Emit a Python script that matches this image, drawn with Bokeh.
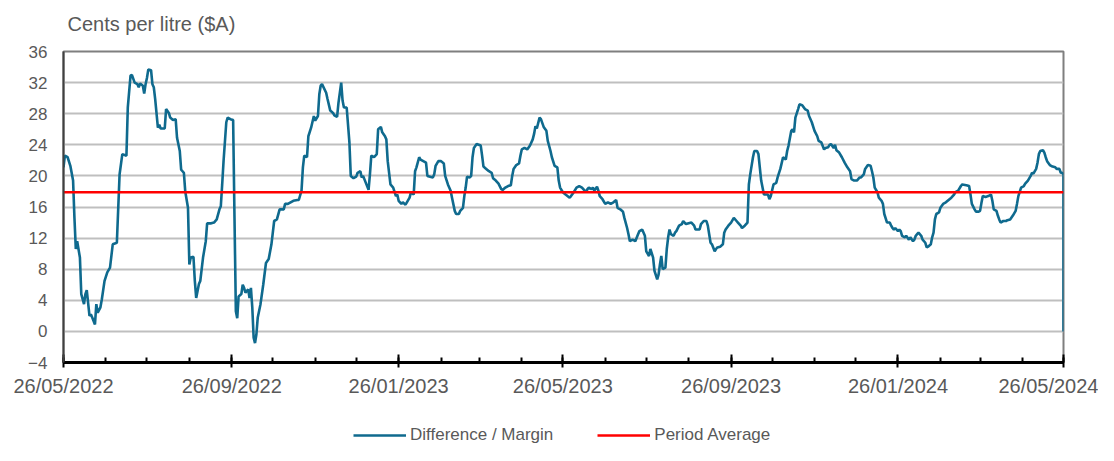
from datetime import datetime, timedelta
from bokeh.plotting import figure
from bokeh.layouts import column
from bokeh.models import (ColumnDataSource, Range1d, FixedTicker, DatetimeTickFormatter,
                          Legend, LegendItem, Label)
from bokeh.embed import file_html
from bokeh.resources import INLINE

start_date = "2022-05-26"
end_date = "2024-05-26"

# day offsets from 26/05/2022 and margin values (cents per litre)
day_offsets = [
    0, 1, 3, 5, 7, 8, 9, 10, 12, 13, 15, 16, 17, 19, 20, 21, 23, 24, 25, 27, 28, 30, 32, 34, 36, 39,
    41, 43, 46, 47, 49, 50, 52, 54, 55, 56, 58, 59, 60, 61, 62, 64, 65, 66, 67, 69, 70, 71, 74, 75,
    77, 78, 80, 82, 83, 85, 86, 87, 88, 89, 91, 92, 93, 95, 96, 97, 99, 100, 102, 104, 105, 108, 110,
    112, 114, 115, 116, 117, 119, 120, 122, 124, 125, 126, 127, 128, 130, 131, 132, 133, 135, 136,
    137, 138, 139, 140, 141, 142, 144, 146, 148, 150, 152, 154, 156, 158, 160, 161, 162, 164, 166,
    168, 171, 172, 174, 175, 176, 178, 179, 181, 183, 184, 186, 187, 188, 189, 192, 193, 195, 197,
    198, 200, 201, 203, 204, 205, 207, 209, 210, 212, 214, 215, 217, 218, 219, 221, 223, 224, 225,
    227, 229, 230, 232, 233, 235, 236, 237, 239, 241, 243, 244, 245, 247, 248, 250, 251, 253, 254,
    256, 257, 258, 260, 261, 263, 265, 266, 268, 270, 271, 272, 274, 276, 278, 279, 281, 283, 284,
    286, 287, 289, 290, 292, 293, 294, 295, 297, 298, 299, 300, 302, 305, 306, 307, 309, 311, 313,
    314, 316, 318, 320, 321, 323, 325, 327, 328, 329, 331, 333, 334, 335, 337, 339, 341, 343, 344,
    345, 346, 348, 349, 351, 353, 354, 356, 357, 359, 361, 362, 363, 365, 367, 370, 371, 373, 375,
    377, 379, 381, 382, 383, 384, 386, 387, 388, 390, 391, 392, 394, 396, 398, 400, 402, 404, 405,
    407, 409, 410, 412, 413, 414, 416, 418, 420, 421, 423, 425, 426, 428, 429, 431, 432, 434, 435,
    436, 437, 438, 440, 441, 442, 443, 444, 446, 447, 448, 450, 452, 453, 455, 457, 459, 461, 462,
    465, 466, 468, 470, 471, 472, 473, 474, 476, 477, 478, 480, 482, 483, 484, 486, 488, 490, 492,
    493, 495, 496, 498, 500, 501, 502, 504, 505, 507, 508, 509, 510, 512, 513, 515, 516, 517, 519,
    521, 522, 524, 526, 528, 529, 530, 532, 533, 534, 535, 537, 538, 540, 542, 544, 545, 547, 549,
    551, 552, 554, 556, 557, 559, 560, 561, 563, 564, 565, 567, 569, 571, 573, 575, 576, 578, 580,
    582, 583, 584, 585, 586, 588, 590, 591, 592, 593, 595, 596, 598, 599, 600, 602, 604, 605, 606,
    607, 608, 610, 611, 612, 613, 615, 616, 618, 619, 621, 622, 623, 624, 625, 627, 628, 630, 631,
    632, 634, 635, 636, 637, 638, 640, 641, 643, 645, 647, 649, 651, 652, 654, 656, 657, 660, 662,
    663, 664, 666, 667, 669, 670, 671, 672, 674, 676, 678, 679, 680, 682, 683, 684, 685, 687, 689,
    690, 692, 694, 696, 697, 698, 700, 702, 703, 705, 707, 708, 709, 711, 712, 713, 714, 716, 717,
    718, 719, 721, 723, 725, 726, 728, 729, 730, 731, 731,
]
margin = [
    21.1, 22.6, 22.4, 21.3, 19.4, 14.6, 10.6, 11.6, 9.5, 4.8, 3.5, 4.8, 5.3, 2.0, 2.2, 1.8, 0.9, 3.5,
    2.4, 3.1, 4.1, 6.5, 7.6, 8.2, 11.2, 11.4,
    20.2, 22.8, 22.6, 28.8, 32.9, 33.0, 32.0, 31.8, 31.4, 31.9, 31.6, 30.6, 31.8, 32.6, 33.7, 33.6,
    31.8, 31.4, 29.9, 26.2, 26.6, 26.1, 26.1, 28.6,
    28.1, 27.5, 27.2, 27.3, 24.9, 23.2, 20.8, 20.6, 20.4, 18.0, 15.9, 8.6, 9.5, 9.6, 6.5, 4.3, 6.1,
    6.5, 9.5, 11.6, 13.9, 13.9, 14.0,
    14.4, 15.7, 16.1, 18.9, 21.9, 26.9, 27.5, 27.3, 27.2, 14.6, 2.6, 1.7, 4.5, 4.8, 6.0, 5.6, 5.0,
    5.4, 4.3,
    5.6, 3.1, -0.8, -1.5, -0.4, 1.8, 3.5, 6.0, 8.8, 9.3, 11.2, 14.2, 14.4, 15.7, 15.7, 15.7, 16.4,
    16.4, 16.6,
    16.8, 16.9, 16.9, 18.1, 21.1, 22.6, 22.4, 25.1, 26.2, 27.7, 27.1, 27.7, 30.5, 31.6, 31.8, 30.7,
    29.9, 28.4, 28.1,
    27.8, 27.6, 29.4, 32.0, 29.7, 28.8, 28.8, 24.3, 20.0, 19.7, 19.9, 20.4, 20.6, 19.8, 20.0, 19.1,
    18.2, 20.2, 22.6,
    22.4, 22.8, 26.0, 26.3, 25.6, 25.1, 24.7, 21.9, 18.9, 18.5, 17.4, 17.6, 16.8, 16.4, 16.6, 16.3,
    16.6, 17.2, 17.9,
    17.6, 20.6, 21.1, 22.4, 22.1, 21.9, 21.7, 20.0, 19.9, 19.8, 20.2, 21.3, 21.9, 21.9, 21.6, 20.0,
    18.9, 18.1, 17.2,
    15.5, 15.1, 15.1, 15.5, 15.9, 17.4, 18.5, 19.9, 19.8, 20.0, 22.4, 23.6, 24.1, 23.9, 22.6, 21.2,
    20.9, 20.6, 20.4,
    19.7, 19.4, 19.0, 18.3, 18.2, 18.5, 18.7, 18.8, 20.0, 20.9, 21.4, 21.6, 22.6, 23.4, 23.6, 23.4,
    23.9, 24.7, 25.4,
    26.4, 26.1, 27.5, 27.3, 26.3, 25.8, 24.5, 23.2, 22.4, 21.3, 21.1, 19.4, 18.5, 17.9, 17.6, 17.2,
    17.4, 17.9, 18.5,
    18.7, 18.5, 18.1, 17.9, 18.3, 18.5, 18.3, 18.5, 18.1, 18.6, 18.1, 17.4, 17.0, 16.4, 16.6, 16.4,
    16.6, 16.9, 15.9,
    15.7, 15.4, 14.6, 13.3, 12.5, 11.6, 11.8, 11.6, 12.5, 12.9, 13.1, 12.3, 10.3, 9.7, 10.6, 9.5,
    7.8, 6.7, 7.3,
    8.6, 9.7, 8.0, 8.2, 10.6, 12.1, 13.1, 12.5, 12.3, 12.7, 12.9, 13.6, 13.8, 14.2, 13.8, 13.9,
    14.0, 13.6, 13.1,
    13.1, 13.8, 14.2, 14.2, 13.6, 12.5, 11.4, 11.2, 10.3, 10.6, 10.8, 10.9, 11.2, 12.7, 13.1, 13.6,
    14.0, 14.6, 14.2,
    14.0, 13.6, 13.3, 13.6, 14.0, 18.9, 20.2, 22.4, 23.2, 23.2, 22.8, 21.1, 19.4, 17.6, 17.6, 17.6,
    17.0, 17.4, 18.9,
    19.1, 19.8, 20.9, 22.4, 22.1, 23.2, 23.9, 25.8, 26.0, 25.6, 27.5, 28.6, 29.2, 29.1, 28.6, 28.4,
    27.7, 26.9, 25.8,
    25.1, 24.5, 24.3, 23.4, 23.6, 23.7, 24.0, 24.1, 23.6, 24.0, 23.3, 23.0, 22.4, 21.7, 21.1, 20.6,
    19.6, 19.4, 19.4,
    19.8, 19.8, 20.0, 20.2, 20.9, 21.4, 21.3, 20.6, 19.8, 18.5, 17.9, 17.2, 16.8, 16.4, 15.1, 14.0,
    14.0, 13.6, 13.3,
    13.1, 13.3, 12.9, 13.1, 12.9, 12.3, 12.1, 12.3, 11.8, 12.1, 11.6, 11.8, 12.3, 12.5, 12.7, 12.3,
    11.8, 11.4, 10.8,
    10.9, 11.2, 12.1, 12.7, 14.4, 15.1, 15.3, 15.9, 16.4, 16.6, 16.9, 17.2, 17.6, 17.9, 18.1, 18.7,
    18.9, 18.8, 18.7,
    17.6, 16.4, 15.7, 15.4, 15.4, 15.5, 16.5, 17.4, 17.3, 17.4, 17.6, 16.8, 15.7, 15.5, 14.9, 14.4,
    14.0, 14.2, 14.2,
    14.3, 14.4, 14.9, 15.5, 16.4, 17.4, 18.5, 18.7, 19.0, 19.4, 20.0, 20.4, 20.3, 20.9, 21.7, 22.8,
    23.2, 23.3, 23.0,
    22.4, 21.9, 21.4, 21.2, 21.1, 20.9, 20.9, 20.4, 20.4, 20.2, 0.0,
]
period_average = 17.9

y_ticks = [-4, 0, 4, 8, 12, 16, 20, 24, 28, 32, 36]
series_names = ["Difference / Margin", "Period Average"]
y_title = "Cents per litre ($A)"

assert len(day_offsets) == len(margin), (len(day_offsets), len(margin))

t0 = datetime.strptime(start_date, "%Y-%m-%d")
t1 = datetime.strptime(end_date, "%Y-%m-%d")
dates = [t0 + timedelta(days=d) for d in day_offsets]
EPOCH = datetime(1970, 1, 1)


def ms(d):
    return (d - EPOCH).total_seconds() * 1000.0


# monthly ticks on the 26th
month_ticks = []
y, m = t0.year, t0.month
while True:
    d = datetime(y, m, 26)
    if d > t1:
        break
    month_ticks.append(d)
    m += 1
    if m > 12:
        m = 1
        y += 1
major = [ms(d) for i, d in enumerate(month_ticks) if i % 4 == 0]
minor = [ms(d) for d in month_ticks]

FONT = "Liberation Sans"
GREY = "#595959"
BLUE = "#0F6A8E"
RED = "#FF0000"

W = 1098
TITLE_H = 38
LEGEND_H = 40

# title strip above the chart (frame aligned with the main chart's frame)
pt = figure(width=W, height=TITLE_H, output_backend="svg", toolbar_location=None,
            x_range=Range1d(0, 1000), y_range=Range1d(0, TITLE_H),
            x_axis_location=None, y_axis_location=None, min_border=0)
pt.outline_line_color = None
pt.grid.grid_line_color = None
pt.add_layout(Label(x=4, y=TITLE_H - 23, text=y_title, text_font=FONT, text_font_size="20px",
                    text_color=GREY, text_baseline="middle", text_align="left"))

p = figure(width=W, height=367, output_backend="svg", toolbar_location=None,
           x_axis_type="datetime",
           x_range=Range1d(t0, t1), y_range=Range1d(-4, 36),
           min_border_left=63, min_border_right=35, min_border_top=13, min_border_bottom=43)
p.outline_line_color = "#7F7F7F"
p.outline_line_width = 2

src = ColumnDataSource(dict(x=dates, y=margin))
p.line("x", "y", source=src, line_color=BLUE, line_width=2.6)
avg_src = ColumnDataSource(dict(x=[t0, t1], y=[period_average, period_average]))
p.line("x", "y", source=avg_src, line_color=RED, line_width=2.6)

# axes
xa = p.xaxis[0]
xa.ticker = FixedTicker(ticks=major, minor_ticks=minor)
fmt = "%d/%m/%Y"
xa.formatter = DatetimeTickFormatter(microseconds=fmt, milliseconds=fmt, seconds=fmt, minsec=fmt,
                                     minutes=fmt, hourmin=fmt, hours=fmt, days=fmt, months=fmt,
                                     years=fmt)
xa.axis_line_color = "black"
xa.axis_line_width = 3
xa.major_tick_line_color = "black"
xa.major_tick_line_width = 2
xa.major_tick_in = 8
xa.major_tick_out = 5
xa.minor_tick_line_color = "black"
xa.minor_tick_line_width = 2
xa.minor_tick_in = 5
xa.minor_tick_out = 0
xa.major_label_text_font = FONT
xa.major_label_text_font_size = "20px"
xa.major_label_text_color = GREY
xa.major_label_standoff = 7

ya = p.yaxis[0]
ya.ticker = FixedTicker(ticks=y_ticks)
ya.axis_line_color = "#404040"
ya.axis_line_width = 2
ya.major_tick_line_color = None
ya.minor_tick_line_color = None
ya.major_tick_in = 0
ya.major_tick_out = 0
ya.major_label_text_font = FONT
ya.major_label_text_font_size = "17px"
ya.major_label_text_color = GREY
ya.major_label_standoff = 16

p.xgrid.grid_line_color = None
p.ygrid.ticker = FixedTicker(ticks=y_ticks)
p.ygrid.grid_line_color = "#BFBFBF"
p.ygrid.grid_line_width = 2

# legend strip below the chart (its keys reuse the series sources, drawn off-range)
pl = figure(width=W, height=LEGEND_H, output_backend="svg", toolbar_location=None,
            x_range=Range1d(0, 1), y_range=Range1d(0, 1),
            x_axis_location=None, y_axis_location=None, min_border=0)
pl.outline_line_color = None
pl.grid.grid_line_color = None
lr1 = pl.line("x", "y", source=src, line_color=BLUE, line_width=2.6)
lr2 = pl.line("x", "y", source=avg_src, line_color=RED, line_width=2.6)
legend = Legend(items=[LegendItem(label=series_names[0], renderers=[lr1]),
                       LegendItem(label=series_names[1], renderers=[lr2])],
                orientation="horizontal", location=(290, 0),
                glyph_width=53, glyph_height=20, label_height=20, label_standoff=4, spacing=44,
                padding=0, margin=0, border_line_color=None, background_fill_alpha=0,
                label_text_font=FONT, label_text_font_size="17px", label_text_color=GREY)
pl.add_layout(legend, "center")

layout = column(pt, p, pl, spacing=0)
open("out.html", "w").write(file_html(layout, INLINE))
